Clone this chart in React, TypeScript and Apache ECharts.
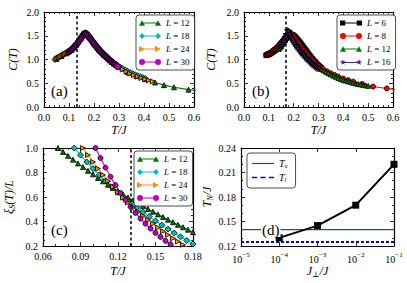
import { useEffect, useRef } from 'react';
import * as echarts from 'echarts';

const SERIF = '"Liberation Serif", "DejaVu Serif", serif';

// ---------- Panel (a): C(T) vs T/J ----------
const aL12: number[][] = [[0.05,1.01],[0.07,1.07],[0.09,1.13],[0.11,1.20],[0.13,1.31],[0.15,1.46],[0.165,1.55],[0.18,1.48],[0.20,1.34],[0.22,1.21],[0.24,1.10],[0.27,0.955],[0.30,0.84],[0.335,0.73],[0.37,0.65],[0.404,0.585],[0.444,0.515],[0.48,0.46],[0.52,0.415],[0.578,0.365],[0.65,0.32]];
const aL18: number[][] = [[0.044,1.00],[0.05,1.02],[0.055,1.035],[0.06,1.05],[0.065,1.065],[0.07,1.08],[0.075,1.095],[0.08,1.11],[0.085,1.125],[0.09,1.14],[0.095,1.155],[0.10,1.17],[0.105,1.19],[0.11,1.21],[0.115,1.235],[0.12,1.26],[0.125,1.29],[0.13,1.32],[0.135,1.355],[0.14,1.39],[0.145,1.43],[0.15,1.47],[0.155,1.51],[0.16,1.545],[0.165,1.565],[0.17,1.56],[0.175,1.53],[0.18,1.50],[0.185,1.465],[0.19,1.43],[0.195,1.395],[0.20,1.36],[0.205,1.325],[0.21,1.29],[0.215,1.26],[0.22,1.23],[0.225,1.20],[0.23,1.17],[0.235,1.145],[0.24,1.12],[0.248,1.08],[0.256,1.04],[0.264,1.00],[0.272,0.965],[0.28,0.93],[0.288,0.90],[0.296,0.87],[0.305,0.84],[0.315,0.81],[0.325,0.78],[0.335,0.75],[0.345,0.725],[0.355,0.70],[0.365,0.68],[0.375,0.66],[0.385,0.64],[0.395,0.62],[0.405,0.60]];
const aL24: number[][] = [[0.05,1.01],[0.055,1.025],[0.06,1.04],[0.065,1.055],[0.07,1.07],[0.075,1.085],[0.08,1.10],[0.085,1.115],[0.09,1.13],[0.095,1.145],[0.10,1.16],[0.105,1.18],[0.11,1.20],[0.115,1.225],[0.12,1.25],[0.125,1.28],[0.13,1.31],[0.135,1.345],[0.14,1.38],[0.145,1.42],[0.15,1.46],[0.155,1.50],[0.16,1.53],[0.165,1.55],[0.17,1.54],[0.175,1.51],[0.18,1.48],[0.185,1.445],[0.19,1.41],[0.195,1.375],[0.20,1.34],[0.205,1.305],[0.21,1.27],[0.215,1.24],[0.22,1.21],[0.225,1.18],[0.23,1.15],[0.235,1.125],[0.24,1.10],[0.248,1.06],[0.256,1.02],[0.264,0.98],[0.272,0.945],[0.28,0.91],[0.29,0.875],[0.30,0.84],[0.315,0.79],[0.33,0.745],[0.345,0.705],[0.36,0.67],[0.375,0.64],[0.39,0.61],[0.405,0.585],[0.42,0.56],[0.435,0.54]];
const aL30: number[][] = [[0.10,1.16],[0.1025,1.17],[0.105,1.18],[0.1075,1.19],[0.11,1.20],[0.1125,1.212],[0.115,1.225],[0.1175,1.237],[0.12,1.25],[0.1225,1.265],[0.125,1.28],[0.1275,1.295],[0.13,1.31],[0.1325,1.327],[0.135,1.345],[0.1375,1.362],[0.14,1.38],[0.1425,1.40],[0.145,1.42],[0.1475,1.44],[0.15,1.46],[0.1525,1.48],[0.155,1.50],[0.1575,1.518],[0.16,1.535],[0.1625,1.545],[0.165,1.55],[0.1675,1.545],[0.17,1.535],[0.1725,1.52],[0.175,1.505],[0.1775,1.49],[0.18,1.475],[0.1825,1.457],[0.185,1.44],[0.1875,1.422],[0.19,1.405],[0.1925,1.387],[0.195,1.37],[0.1975,1.352],[0.20,1.335],[0.2025,1.317],[0.205,1.30],[0.2075,1.282],[0.21,1.265],[0.2125,1.25],[0.215,1.235],[0.2175,1.22],[0.22,1.205],[0.2225,1.19],[0.225,1.175],[0.2275,1.16],[0.23,1.145],[0.2325,1.132],[0.235,1.12],[0.2375,1.107],[0.24,1.095],[0.2425,1.082],[0.245,1.07],[0.2475,1.057],[0.25,1.045],[0.2525,1.032],[0.255,1.02],[0.2575,1.007],[0.26,0.995],[0.2625,0.985],[0.265,0.975],[0.2675,0.965],[0.27,0.955],[0.2725,0.945],[0.275,0.935],[0.2775,0.922],[0.28,0.91],[0.2825,0.90],[0.285,0.89],[0.2875,0.88],[0.29,0.87],[0.295,0.85]];

// ---------- Panel (b): C(T) vs T/J ----------
const bL6: number[][] = [[0.09,1.09],[0.095,1.10],[0.10,1.11],[0.105,1.125],[0.11,1.14],[0.115,1.16],[0.12,1.18],[0.125,1.20],[0.13,1.22],[0.135,1.245],[0.14,1.27],[0.145,1.30],[0.15,1.33],[0.155,1.36],[0.16,1.39],[0.165,1.42],[0.17,1.45],[0.175,1.475],[0.18,1.50],[0.185,1.515],[0.19,1.52],[0.195,1.515],[0.20,1.50],[0.205,1.475],[0.21,1.45],[0.215,1.42],[0.22,1.39],[0.225,1.355],[0.23,1.32],[0.235,1.285],[0.24,1.25],[0.245,1.215],[0.25,1.18],[0.255,1.145],[0.26,1.11],[0.265,1.075],[0.27,1.04],[0.275,1.01],[0.28,0.98],[0.285,0.95],[0.29,0.92],[0.295,0.895],[0.30,0.87],[0.305,0.845],[0.31,0.82]];
const bL8: number[][] = [[0.09,1.10],[0.0925,1.105],[0.095,1.11],[0.0975,1.115],[0.10,1.12],[0.1025,1.127],[0.105,1.135],[0.1075,1.142],[0.11,1.15],[0.1125,1.16],[0.115,1.17],[0.1175,1.18],[0.12,1.19],[0.1225,1.20],[0.125,1.21],[0.1275,1.222],[0.13,1.235],[0.1325,1.247],[0.135,1.26],[0.1375,1.275],[0.14,1.29],[0.1425,1.305],[0.145,1.32],[0.1475,1.337],[0.15,1.355],[0.1525,1.372],[0.155,1.39],[0.1575,1.407],[0.16,1.425],[0.1625,1.442],[0.165,1.46],[0.1675,1.48],[0.17,1.50],[0.175,1.535],[0.18,1.56],[0.185,1.565],[0.19,1.55],[0.195,1.52],[0.20,1.485],[0.205,1.45],[0.21,1.41],[0.215,1.375],[0.22,1.34],[0.225,1.305],[0.23,1.27],[0.235,1.235],[0.24,1.20],[0.245,1.17],[0.25,1.14],[0.255,1.11],[0.26,1.08],[0.265,1.05],[0.27,1.02],[0.275,0.995],[0.28,0.97],[0.285,0.945],[0.29,0.92],[0.295,0.895],[0.30,0.87],[0.31,0.83],[0.32,0.795],[0.335,0.75],[0.35,0.71],[0.365,0.675],[0.38,0.64],[0.40,0.60],[0.42,0.565],[0.44,0.535],[0.476,0.485],[0.52,0.43],[0.575,0.39],[0.64,0.35]];
const bL12: number[][] = [[0.14,1.22],[0.145,1.25],[0.15,1.28],[0.155,1.32],[0.16,1.36],[0.165,1.41],[0.17,1.46],[0.175,1.52],[0.18,1.56],[0.185,1.53],[0.19,1.49],[0.195,1.45],[0.20,1.41],[0.205,1.37],[0.21,1.33],[0.215,1.295],[0.22,1.26],[0.225,1.23],[0.23,1.195],[0.235,1.165],[0.24,1.135],[0.245,1.105],[0.25,1.075],[0.26,1.02],[0.27,0.965],[0.28,0.915],[0.29,0.875],[0.30,0.84],[0.31,0.80],[0.32,0.77],[0.33,0.74],[0.34,0.71],[0.35,0.685],[0.36,0.66],[0.37,0.635],[0.38,0.61],[0.39,0.59],[0.40,0.57],[0.41,0.555],[0.42,0.54],[0.43,0.525],[0.44,0.51],[0.45,0.495],[0.46,0.485],[0.47,0.475],[0.48,0.465],[0.49,0.455],[0.50,0.445]];
const bL16: number[][] = [[0.15,1.30],[0.155,1.35],[0.16,1.40],[0.165,1.46],[0.17,1.53],[0.175,1.61],[0.18,1.60],[0.185,1.54],[0.19,1.48],[0.195,1.43],[0.20,1.38],[0.205,1.34],[0.21,1.30],[0.215,1.265],[0.22,1.23],[0.225,1.195],[0.23,1.16],[0.235,1.13],[0.24,1.10],[0.245,1.07],[0.25,1.04],[0.255,1.015],[0.26,0.99],[0.265,0.965],[0.27,0.94],[0.275,0.915],[0.28,0.89],[0.285,0.87],[0.29,0.85],[0.295,0.83],[0.30,0.81]];

// ---------- Panel (c): xi_S(T)/L vs T/J ----------
const cL12: number[][] = [[0.072,1.000],[0.076,0.968],[0.080,0.936],[0.084,0.905],[0.088,0.874],[0.092,0.844],[0.096,0.814],[0.100,0.785],[0.104,0.756],[0.108,0.728],[0.112,0.700],[0.116,0.673],[0.120,0.647],[0.124,0.621],[0.128,0.596],[0.132,0.572],[0.136,0.548],[0.140,0.525],[0.144,0.502],[0.148,0.480],[0.152,0.458],[0.156,0.436],[0.160,0.415],[0.164,0.394],[0.168,0.373],[0.172,0.353],[0.176,0.333],[0.180,0.313]];
const cL18: number[][] = [[0.085,1.000],[0.090,0.942],[0.095,0.886],[0.100,0.832],[0.105,0.780],[0.110,0.730],[0.115,0.682],[0.120,0.637],[0.125,0.594],[0.130,0.553],[0.135,0.514],[0.140,0.476],[0.145,0.440],[0.150,0.405],[0.155,0.371],[0.160,0.338],[0.165,0.306],[0.170,0.275],[0.175,0.245],[0.180,0.216]];
const cL24: number[][] = [[0.092,1.000],[0.096,0.942],[0.100,0.886],[0.104,0.832],[0.108,0.780],[0.112,0.730],[0.116,0.683],[0.120,0.638],[0.124,0.595],[0.128,0.555],[0.132,0.517],[0.136,0.481],[0.140,0.446],[0.144,0.413],[0.148,0.381],[0.152,0.350],[0.156,0.320],[0.160,0.291],[0.164,0.263],[0.168,0.236],[0.172,0.210],[0.176,0.185]];
const cL30: number[][] = [[0.102,1.000],[0.106,0.918],[0.110,0.840],[0.114,0.766],[0.118,0.697],[0.122,0.633],[0.126,0.574],[0.130,0.520],[0.134,0.470],[0.138,0.424],[0.142,0.382],[0.146,0.343],[0.150,0.307],[0.154,0.274],[0.158,0.243],[0.162,0.214],[0.166,0.187],[0.170,0.162]];

// ---------- Panel (d): T_N/J vs J_perp/J ----------
const dJperp = [1e-4, 1e-3, 1e-2, 1e-1];
const dTN = [0.130, 0.145, 0.170, 0.220];
const dTu = 0.14;
const dTl = 0.125;
const dXRange = [1e-5, 1e-1];

// dashed marker temperatures
const dashA = 0.125;
const dashB = 0.175;
const dashC = 0.125;

// axis ranges [min, max, interval]
const abX = [0, 0.6, 0.1];
const abY = [0, 2.0, 0.5];
const cX = [0.06, 0.18, 0.03];
const cY = [0.2, 1.0, 0.2];
const dY = [0.12, 0.24, 0.03];

const GREEN = '#007a00';
const CYAN = '#00bfbf';
const ORANGE = '#ff8c00';
const MAGENTA = '#bf00bf';
const RED = '#ff0000';
const INDIGO = '#40237a';

const STAR = 'path://M3,0L3.71,2.03L5.85,2.07L4.14,3.37L4.76,5.43L3,4.2L1.24,5.43L1.86,3.37L0.15,2.07L2.29,2.03Z';
const RTRI = 'path://M0,0L6,3L0,6Z';

const ICON = {
  tri: 'path://M0,6L3,0.6L6,6Z M3,2.7H19V3.7H3Z M16,6L19,0.6L22,6Z',
  dia: 'path://M0,3L3,0L6,3L3,6Z M3,2.5H19V3.5H3Z M16,3L19,0L22,3L19,6Z',
  rtri: 'path://M0,0L6,3L0,6Z M3,2.5H19V3.5H3Z M16,0L22,3L16,6Z',
  circ: 'path://M0,3A3,3 0 1 1 6,3A3,3 0 1 1 0,3Z M3,2.5H19V3.5H3Z M16,3A3,3 0 1 1 22,3A3,3 0 1 1 16,3Z',
  sq: 'path://M0.5,0.5H5.5V5.5H0.5Z M3,2.5H19V3.5H3Z M16.5,0.5H21.5V5.5H16.5Z',
  star: 'path://M3,0L3.71,2.03L5.85,2.07L4.14,3.37L4.76,5.43L3,4.2L1.24,5.43L1.86,3.37L0.15,2.07L2.29,2.03Z M3,2.6H19V3.6H3Z M19,0L19.71,2.03L21.85,2.07L20.14,3.37L20.76,5.43L19,4.2L17.24,5.43L17.86,3.37L16.15,2.07L18.29,2.03Z',
  solid: 'path://M0,2.4H22V3.6H0Z',
  dash: 'path://M0,2.3H5V3.7H0Z M8.5,2.3H13.5V3.7H8.5Z M17,2.3H22V3.7H17Z',
};

function ls(name: string, data: number[][], gi: number, color: string, symbol: string, size: number, extra: any = {}) {
  return {
    type: 'line', name, data, xAxisIndex: gi, yAxisIndex: gi,
    symbol, symbolSize: size, showSymbol: true, showAllSymbol: true,
    lineStyle: { color, width: 1.1 },
    itemStyle: { color, borderColor: '#000', borderWidth: 0.8 },
    emphasis: { disabled: true }, silent: true, clip: true,
    ...extra,
  };
}

function dashLine(x: number) {
  return {
    markLine: {
      silent: true, symbol: ['none', 'none'], label: { show: false },
      lineStyle: { color: '#000', type: [3, 2.5], width: 1.5 },
      emphasis: { disabled: true },
      data: [{ xAxis: x }],
    },
  };
}

const tickStyle = { color: '#000', width: 0.8 };
function axis(gi: number, pos: string, range: number[] | null, fmt: ((v: number) => string) | null, minorSplit: number, extra: any = {}) {
  const base: any = {
    gridIndex: gi, position: pos, type: 'value',
    axisLine: { show: true, onZero: false, lineStyle: { color: '#000', width: 1.2 } },
    axisTick: { show: true, inside: true, length: 4, lineStyle: tickStyle },
    minorTick: { show: minorSplit > 0, splitNumber: minorSplit || 5, length: 2, lineStyle: tickStyle },
    splitLine: { show: false },
    axisLabel: fmt
      ? { show: true, formatter: fmt, color: '#000', fontFamily: SERIF, fontSize: 10, margin: 5 }
      : { show: false },
  };
  if (range) {
    base.min = range[0]; base.max = range[1]; base.interval = range[2];
  }
  return { ...base, ...extra };
}

const nameStyle = { fontFamily: SERIF, fontSize: 12, color: '#000', fontStyle: 'italic' };
const richName = {
  i: { fontFamily: SERIF, fontSize: 12, fontStyle: 'italic', color: '#000', lineHeight: 13, verticalAlign: 'top' },
  s: { fontFamily: SERIF, fontSize: 8, fontStyle: 'italic', color: '#000', lineHeight: 7, verticalAlign: 'bottom' },
  u: { fontFamily: SERIF, fontSize: 8, color: '#000', lineHeight: 7, verticalAlign: 'bottom' },
};

function legendBox(left: number, top: number, items: { name: string; icon: string }[], pad: number[]) {
  return {
    left, top, orient: 'vertical', data: items,
    itemWidth: 22, itemHeight: 6, itemGap: 3,
    padding: pad, borderColor: '#222', borderWidth: 0.8, borderRadius: 3,
    backgroundColor: '#fff', selectedMode: false,
    itemStyle: { borderWidth: 0 },
    textStyle: {
      fontFamily: SERIF, fontSize: 9, color: '#000', lineHeight: 10,
      rich: {
        i: { fontFamily: SERIF, fontSize: 9, fontStyle: 'italic', color: '#000', lineHeight: 10 },
        n: { fontFamily: SERIF, fontSize: 9, color: '#000', lineHeight: 10 },
        s: { fontFamily: SERIF, fontSize: 6, fontStyle: 'italic', color: '#000', lineHeight: 5, verticalAlign: 'bottom' },
        t: { fontFamily: SERIF, fontSize: 10, fontStyle: 'italic', color: '#000', lineHeight: 11, verticalAlign: 'top' },
      },
    },
    formatter: (name: string) => {
      if (name.startsWith('L')) return `{i|L}{n| ${name.slice(2)}}`;
      if (name === 'Tu') return '{t|T}{s|u}';
      if (name === 'Tl') return '{t|T}{s|l}';
      return name;
    },
  };
}

const f1 = (v: number) => v.toFixed(1);
const f2 = (v: number) => v.toFixed(2);
const logFmt = (v: number) => {
  const e = Math.round(Math.log10(v));
  const s = String(e).replace('-', '−');
  return `{b|10}{p|${s}}`;
};

export default function App() {
  const ref = useRef<HTMLDivElement>(null);
  useEffect(() => {
    if (!ref.current) return;
    const chart = echarts.init(ref.current, null, { renderer: 'svg' });

    const grids = [
      { left: 44, top: 12, width: 150, height: 95 },
      { left: 244, top: 12, width: 149, height: 95 },
      { left: 43, top: 148, width: 150, height: 98 },
      { left: 241, top: 148, width: 153, height: 98 },
    ];

    const logAxisBase = {
      type: 'log', logBase: 10, min: dXRange[0], max: dXRange[1],
      minorTick: { show: false },
    };

    const xAxes: any[] = [
      axis(0, 'bottom', abX, f1, 5, { name: 'T/J', nameLocation: 'middle', nameGap: 17, nameTextStyle: nameStyle }),
      axis(1, 'bottom', abX, f1, 5, { name: 'T/J', nameLocation: 'middle', nameGap: 17, nameTextStyle: nameStyle }),
      axis(2, 'bottom', cX, f2, 3, { name: 'T/J', nameLocation: 'middle', nameGap: 19, nameTextStyle: nameStyle }),
      axis(3, 'bottom', null, null, 0, {
        ...logAxisBase,
        axisLabel: {
          show: true, formatter: logFmt, color: '#000', margin: 5,
          rich: {
            b: { fontFamily: SERIF, fontSize: 10, color: '#000', lineHeight: 13, verticalAlign: 'bottom' },
            p: { fontFamily: SERIF, fontSize: 7, color: '#000', lineHeight: 7, verticalAlign: 'top' },
          },
        },
        name: '{i|J}{u|⊥}{i|/J}', nameLocation: 'middle', nameGap: 19,
        nameTextStyle: { ...nameStyle, rich: richName },
      }),
      axis(0, 'top', abX, null, 5),
      axis(1, 'top', abX, null, 5),
      axis(2, 'top', cX, null, 3),
      axis(3, 'top', null, null, 0, { ...logAxisBase }),
    ];

    const yAxes: any[] = [
      axis(0, 'left', abY, f1, 5, { name: 'C(T)', nameLocation: 'middle', nameGap: 25, nameRotate: 90, nameTextStyle: nameStyle }),
      axis(1, 'left', abY, f1, 5, { name: 'C(T)', nameLocation: 'middle', nameGap: 27, nameRotate: 90, nameTextStyle: nameStyle }),
      axis(2, 'left', cY, f1, 4, {
        name: '{i|ξ}{u|S}{i|(T)/L}', nameLocation: 'middle', nameGap: 27, nameRotate: 90,
        nameTextStyle: { ...nameStyle, rich: richName },
      }),
      axis(3, 'left', dY, f2, 3, {
        name: '{i|T}{u|N}{i|/J}', nameLocation: 'middle', nameGap: 27, nameRotate: 90,
        nameTextStyle: { ...nameStyle, rich: richName },
      }),
      axis(0, 'right', abY, null, 5),
      axis(1, 'right', abY, null, 5),
      axis(2, 'right', cY, null, 4),
      axis(3, 'right', dY, null, 3),
    ];

    const dMain = dJperp.map((j, i) => [j, dTN[i]]);
    const dUpper = dXRange.map((j) => [j, dTu]);
    const dLower = dXRange.map((j) => [j, dTl]);

    const series: any[] = [
      ls('L = 12', aL12, 0, GREEN, 'triangle', 5),
      ls('L = 18', aL18, 0, CYAN, 'diamond', 6),
      ls('L = 24', aL24, 0, ORANGE, RTRI, 5),
      ls('L = 30', aL30, 0, MAGENTA, 'circle', 5.5, dashLine(dashA)),

      ls('L = 6', bL6, 1, '#000000', 'rect', 5),
      ls('L = 8', bL8, 1, RED, 'circle', 5),
      ls('L = 12', bL12, 1, GREEN, 'triangle', 5),
      ls('L = 16', bL16, 1, INDIGO, STAR, 6, dashLine(dashB)),

      ls('L = 12', cL12, 2, GREEN, 'triangle', 5),
      ls('L = 18', cL18, 2, CYAN, 'diamond', 6),
      ls('L = 24', cL24, 2, ORANGE, RTRI, 5),
      ls('L = 30', cL30, 2, MAGENTA, 'circle', 5, dashLine(dashC)),

      {
        type: 'line', name: 'Tu', data: dUpper, xAxisIndex: 3, yAxisIndex: 3, symbol: 'none',
        lineStyle: { color: GREEN, width: 1.3 }, itemStyle: { color: GREEN }, silent: true,
      },
      {
        type: 'line', name: 'Tl', data: dLower, xAxisIndex: 3, yAxisIndex: 3, symbol: 'none',
        lineStyle: { color: '#0000ff', width: 2, type: [3, 2] }, itemStyle: { color: '#0000ff' }, silent: true,
      },
      {
        type: 'line', name: 'TN', data: dMain, xAxisIndex: 3, yAxisIndex: 3, symbol: 'rect', symbolSize: 7,
        lineStyle: { color: '#000', width: 2 }, itemStyle: { color: '#000' }, silent: true, clip: false,
      },
    ];

    const legends = [
      legendBox(136, 15, [
        { name: 'L = 12', icon: ICON.tri }, { name: 'L = 18', icon: ICON.dia },
        { name: 'L = 24', icon: ICON.rtri }, { name: 'L = 30', icon: ICON.circ },
      ], [3, 5, 3, 3]),
      legendBox(337, 15, [
        { name: 'L = 6', icon: ICON.sq }, { name: 'L = 8', icon: ICON.circ },
        { name: 'L = 12', icon: ICON.tri }, { name: 'L = 16', icon: ICON.star },
      ], [3, 5, 3, 3]),
      legendBox(134, 151, [
        { name: 'L = 12', icon: ICON.tri }, { name: 'L = 18', icon: ICON.dia },
        { name: 'L = 24', icon: ICON.rtri }, { name: 'L = 30', icon: ICON.circ },
      ], [3, 5, 3, 3]),
      legendBox(247, 153, [
        { name: 'Tu', icon: ICON.solid }, { name: 'Tl', icon: ICON.dash },
      ], [5, 8, 5, 5]),
    ];

    const lbl = (text: string, left: number, top: number) => ({
      type: 'text', left, top, z: 100,
      style: { text, fontFamily: SERIF, fontSize: 15, fill: '#000', backgroundColor: '#fff', padding: [0, 1] },
    });

    chart.setOption({
      animation: false,
      backgroundColor: '#fff',
      grid: grids,
      xAxis: xAxes,
      yAxis: yAxes,
      legend: legends,
      series,
      graphic: [
        lbl('(a)', 50, 83),
        lbl('(b)', 251, 83),
        lbl('(c)', 50, 222),
        lbl('(d)', 261, 222),
      ],
    });
    return () => chart.dispose();
  }, []);

  return <div ref={ref} style={{ position: 'fixed', left: 0, top: 0, width: 407, height: 283, background: '#fff' }} />;
}
